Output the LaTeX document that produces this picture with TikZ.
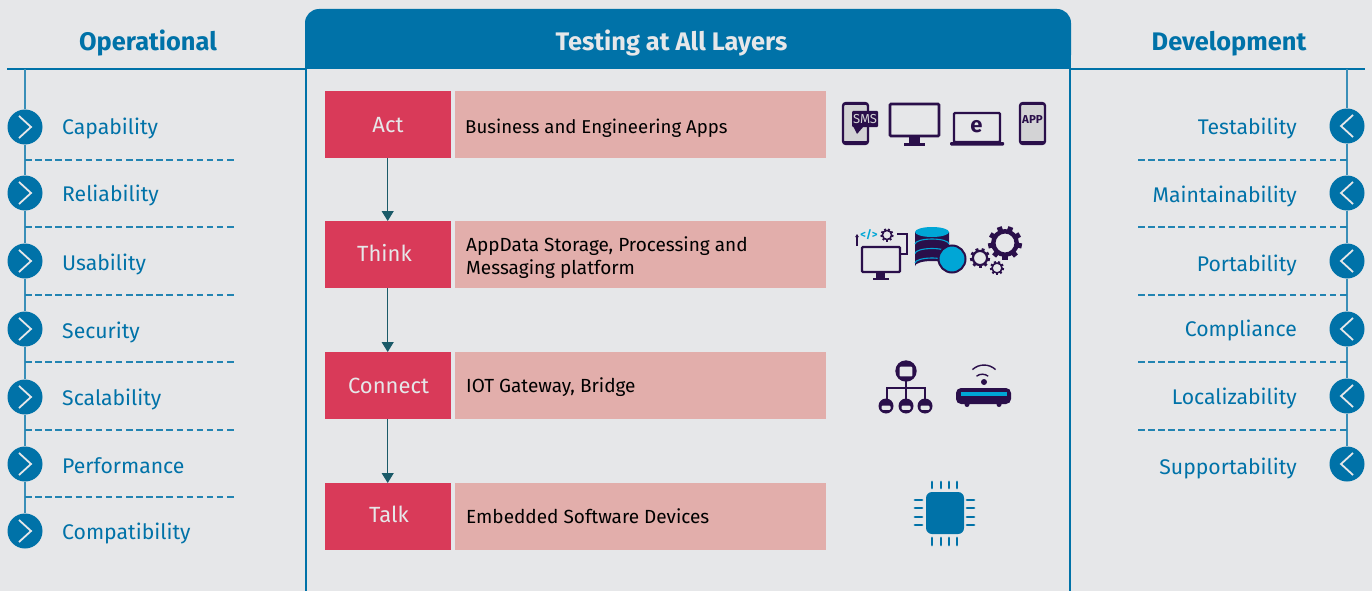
\documentclass[tikz,border=0pt]{standalone}
\usepackage{fontspec}
\setmainfont{Fira Sans}
\usetikzlibrary{arrows.meta,calc}
\definecolor{pagegray}{HTML}{E6E7E9}
\definecolor{layerblue}{HTML}{0072A8}
\definecolor{stepred}{HTML}{D93A59}
\definecolor{descpink}{HTML}{E2AEAB}
\definecolor{flowteal}{HTML}{1A5A68}
\definecolor{iconpurple}{HTML}{2A0F4A}
\definecolor{iconcyan}{HTML}{00A6D6}
\definecolor{screengray}{HTML}{D3D3D5}
\tikzset{
    rule/.style={ layerblue, line width=1.4pt },
    sideline/.style={ layerblue!75!pagegray, line width=1.6pt },
    dashline/.style={ layerblue!85!pagegray, line width=1.1pt, dash pattern=on 6.5pt off 3.6pt },
    sidehead/.style={ text=layerblue, font=\fontsize{25.4}{25.4}\selectfont\bfseries, anchor=base },
    sideitem/.style={ text=layerblue, font=\fontsize{21.2}{21.2}\selectfont, inner sep=0pt },
    bullet/.style={ circle, fill=layerblue, minimum size=35pt, inner sep=0pt },
    chevron/.style={ draw=pagegray, line width=1.8pt, line join=miter },
    stepbox/.style={ fill=stepred, minimum width=126pt, minimum height=67pt, inner sep=0pt, anchor=north west },
    descbox/.style={ fill=descpink, minimum width=371pt, minimum height=67pt, inner sep=0pt, anchor=north west },
    steptext/.style={ text=pagegray, font=\fontsize{22}{22}\selectfont, inner sep=0pt, anchor=base },
    desctext/.style={ text=black, font=\fontsize{19}{19}\selectfont, inner sep=0pt, anchor=base west },
    flow/.style={ flowteal, line width=1.2pt, -{Triangle[length=10pt,width=12pt]} },
    iconline/.style={ draw=iconpurple, line width=2.4pt, rounded corners=1pt },
    pin/.style={ layerblue, line width=2.8pt, line cap=round }
}
% toothed wheel: centre, outer radius, hole radius
\newcommand{\gearicon}[3]{
    \foreach \ang in {0,40,...,320}
        \draw[iconpurple, line width=#2*0.3pt] (#1) ++(\ang+10:#2*0.7) -- ++(\ang+10:#2*0.3);
    \draw[iconpurple, line width={(#2*0.82-#3)*1pt}] (#1) circle ({(#2*0.82+#3)/2});
}
% round head with a face band: centre, radius, top of the band
\newcommand{\headicon}[3]{
    \fill[iconpurple] (#1) circle (#2);
    \fill[pagegray, rounded corners=1pt] ($(#1)+(-#2*0.6,-#2*#3)$) rectangle ($(#1)+(#2*0.6,#2*0.5)$);
}
\begin{document}
\begin{tikzpicture}[x=1pt,y=-1pt]
    \useasboundingbox[fill=pagegray] (0,0) rectangle (1372,591);

    % centre panel
    \fill[layerblue, rounded corners=14pt] (305,9) -- (1071,9) -- (1071,40) -- (1071,69) -- (305,69) -- cycle;
    \fill[layerblue] (305,40) rectangle (1071,69);
    \draw[layerblue, line width=2.8pt] (306,69) -- (306,591);
    \draw[layerblue, line width=2.8pt] (1070,69) -- (1070,591);
    \node (layers) [text=pagegray, font=\fontsize{25.4}{25.4}\selectfont\bfseries, anchor=base] at (671.5,51) {Testing at All Layers};

    % side heads
    \node (ophead) [sidehead] at (148,51) {Operational};
    \node (devhead) [sidehead] at (1229,51) {Development};
    \draw[rule] (7,69) -- (305,69);
    \draw[rule] (1071,69) -- (1365,69);
    \coordinate (optop) at (25,69);
    \coordinate (devtop) at (1347,69);

    % operational column
    \foreach \nm/\txt/\cy/\by in {cap/Capability/127/135, rel/Reliability/193/201, usa/Usability/261/270,
        sec/Security/329/338, sca/Scalability/397/405, per/Performance/464/473, com/Compatibility/531/539} {
        \node (\nm) [bullet] at (25,\cy) {};
        \node (\nm text) [sideitem, anchor=base west] at (62,\by) {\txt};
        \draw[chevron] ($(\nm)+(-6,-11)$) -- ($(\nm)+(6,0)$) -- ($(\nm)+(-6,11)$);
    }
    \draw[sideline] (optop) -- (cap);
    \draw[sideline] (cap) -- (rel);
    \draw[sideline] (rel) -- (usa);
    \draw[sideline] (usa) -- (sec);
    \draw[sideline] (sec) -- (sca);
    \draw[sideline] (sca) -- (per);
    \draw[sideline] (per) -- (com);
    \foreach \dy in {160,227,295,362,430,497}
        \draw[dashline] (25,\dy) -- (234,\dy);

    % development column
    \foreach \nm/\txt/\cy/\by in {tes/Testability/126/135, mai/Maintainability/193/202, por/Portability/261/271,
        cpl/Compliance/329/336, loc/Localizability/396/404, sup/Supportability/464/474} {
        \node (\nm) [bullet] at (1347,\cy) {};
        \node (\nm text) [sideitem, anchor=base east] at (1297,\by) {\txt};
        \draw[chevron] ($(\nm)+(6,-11)$) -- ($(\nm)+(-6,0)$) -- ($(\nm)+(6,11)$);
    }
    \draw[sideline] (devtop) -- (tes);
    \draw[sideline] (tes) -- (mai);
    \draw[sideline] (mai) -- (por);
    \draw[sideline] (por) -- (cpl);
    \draw[sideline] (cpl) -- (loc);
    \draw[sideline] (loc) -- (sup);
    \foreach \dy in {160,227,295,362,430}
        \draw[dashline] (1138,\dy) -- (1347,\dy);

    % layers
    \foreach \nm/\txt/\ty/\tx/\by in {act/Act/91/388/132, think/Think/221/384.5/261, connect/Connect/352/388.5/393, talk/Talk/483/389/522} {
        \node (\nm) [stepbox] at (325,\ty) {};
        \node (\nm desc) [descbox] at (455,\ty) {};
        \node (\nm text) [steptext] at (\tx,\by) {\txt};
    }
    \node (actline) [desctext, font=\fontsize{18.6}{18.6}\selectfont] at (465,133) {Business and Engineering Apps};
    \node (thinkline) [desctext] at (466,251) {AppData Storage, Processing and};
    \node (thinkmore) [desctext] at (466,274) {Messaging platform};
    \node (connectline) [desctext] at (466,392) {IOT Gateway, Bridge};
    \node (talkline) [desctext] at (466,523) {Embedded Software Devices};
    \draw[flow] ([xshift=-0.5pt]act.south) -- ([xshift=-0.5pt]think.north);
    \draw[flow] ([xshift=-0.5pt]think.south) -- ([xshift=-0.5pt]connect.north);
    \draw[flow] ([xshift=-0.5pt]connect.south) -- ([xshift=-0.5pt]talk.north);

    % app icons
    \draw[iconline, fill=screengray, rounded corners=3pt] (843,103) rectangle (868,144);
    \fill[iconpurple] (843,103) rectangle (868,105);
    \fill[iconpurple] (843,141) rectangle (868,144);
    \fill[iconpurple, rounded corners=1pt] (852,111) rectangle (878,127);
    \fill[iconpurple] (853,126) -- (857,134) -- (864,126) -- cycle;
    \node (sms) [text=screengray, font=\fontsize{13}{13}\selectfont, inner sep=0pt] at (865,119) {SMS};
    \draw[iconline, line width=2.6pt] (890,104) rectangle (939,136);
    \fill[iconpurple] (909,137) rectangle (920,143);
    \fill[iconpurple] (904,143) rectangle (925,146);
    \draw[iconline] (954,113) rectangle (1000,142);
    \fill[iconpurple, rounded corners=1pt] (950,142) rectangle (1004,145.5);
    \node (web) [text=iconpurple, font=\fontsize{22}{22}\selectfont\bfseries, inner sep=0pt] at (976.5,127) {e};
    \draw[iconline, fill=screengray, rounded corners=3pt] (1020,103) rectangle (1045,144);
    \fill[iconpurple] (1020,103) rectangle (1045,105);
    \fill[iconpurple] (1020,141) rectangle (1045,144);
    \node (app) [text=iconpurple, font=\fontsize{11.5}{11.5}\selectfont\bfseries, inner sep=0pt] at (1032.5,120) {APP};

    % platform icons
    \draw[iconline] (862,247) rectangle (900,272);
    \fill[iconpurple] (876,273) rectangle (885,278);
    \fill[iconpurple] (873,277.5) rectangle (889,279.5);
    \draw[iconpurple, line width=1.2pt, -{Triangle[length=3pt,width=3.5pt]}] (857,246) -- (857,234);
    \draw[iconpurple, line width=1.2pt] (897,234) -- (907,234) -- (907,254) -- (901,254);
    \node (code) [text=iconcyan, font=\fontsize{11}{11}\selectfont\bfseries, inner sep=0pt] at (869,235) {</>};
    \gearicon{887,235}{6.5}{3.8}
    \fill[iconpurple] (915,232) -- (915,266) arc (180:0:17 and -5) -- (949,232) -- cycle;
    \fill[iconcyan] (932,232) ellipse (17 and 5);
    \foreach \ly in {244,253.5,263}
        \draw[iconcyan, line width=1.1pt] (915,\ly) arc (180:0:17 and -5);
    \draw[iconpurple, fill=iconcyan, line width=2pt] (952,259) circle (13.5);
    \gearicon{1005,243}{17}{9.5}
    \gearicon{980,258}{10}{6}
    \gearicon{997,268}{7}{4.2}

    % gateway icons
    \draw[iconpurple, line width=1.4pt] (887,406) -- (887,388) -- (925,388) -- (925,406);
    \draw[iconpurple, line width=1.4pt] (906,371) -- (906,406);
    \headicon{906,371}{10.7}{0.4}
    \headicon{886,406}{7.5}{0.05}
    \headicon{906,406}{7.5}{0.05}
    \headicon{925,406}{7.5}{0.05}
    \fill[iconpurple, rounded corners=5pt] (956,388) rectangle (1011,404);
    \fill[iconcyan] (961,392) rectangle (1007,395.5);
    \fill[iconpurple] (967,404.5) circle (2.5);
    \fill[iconpurple] (999,404.5) circle (2.5);
    \fill[iconpurple] (984,382) circle (3);
    \draw[iconpurple, line width=1.4pt] (976.5,376.2) arc (-128:-52:9.5);
    \draw[iconpurple, line width=1.4pt] (972.4,369.6) arc (-133:-47:17);

    % device icon
    \fill[layerblue, rounded corners=6pt] (926,492) rectangle (964,534);
    \foreach \px in {932,941,949,957} {
        \draw[pin] (\px,482) -- (\px,488);
        \draw[pin] (\px,538) -- (\px,545);
    }
    \foreach \py in {500,508,517,525} {
        \draw[pin] (915,\py) -- (922,\py);
        \draw[pin] (967,\py) -- (974,\py);
    }
\end{tikzpicture}
\end{document}
